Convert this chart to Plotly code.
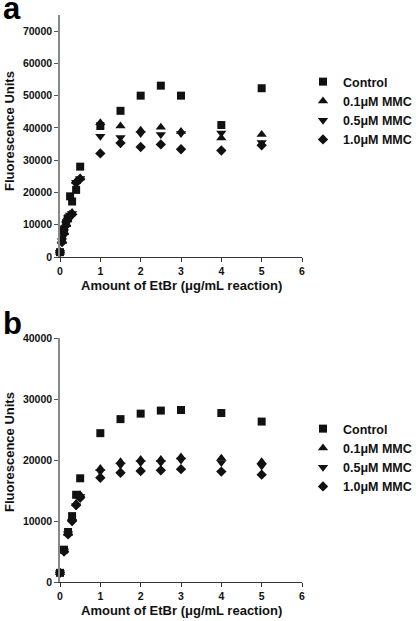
import plotly.graph_objects as go

# ---- data ----
series_names = ["Control", "0.1μM MMC", "0.5μM MMC", "1.0μM MMC"]
series_symbols = ["square", "triangle-up", "triangle-down", "diamond"]

x_a = [0, 0.05, 0.1, 0.15, 0.2, 0.25, 0.3, 0.4, 0.5, 1, 1.5, 2, 2.5, 3, 4, 5]
control_a = [1500, 5500, 8500, 10500, 12000, 18800, 17200, 20800, 28000, 40600, 45300, 50000, 53100, 50000, 40900, 52300]
mmc01_a = [1500, 4800, 7500, 10000, 12500, 13300, 13800, 23500, 24500, 41600, 40600, 39300, 40200, 38900, 36900, 38000]
mmc05_a = [1500, 5000, 7800, 10300, 12200, 13000, 13500, 23200, 24300, 37400, 37000, 38300, 38000, 38300, 38400, 35500]
mmc10_a = [1500, 4600, 7200, 9800, 12000, 12800, 13200, 23000, 24200, 32100, 35300, 34100, 34900, 33400, 33000, 34600]

x_b = [0, 0.1, 0.2, 0.3, 0.4, 0.5, 1, 1.5, 2, 2.5, 3, 4, 5]
control_b = [1500, 5300, 8200, 10800, 14300, 17000, 24400, 26700, 27600, 28100, 28200, 27700, 26300]
mmc01_b = [1500, 5200, 8000, 10400, 12900, 14300, 18600, 19700, 20100, 20100, 20500, 20300, 19700]
mmc05_b = [1500, 5100, 7900, 9900, 12500, 14000, 18100, 19200, 19600, 19600, 20000, 19600, 19000]
mmc10_b = [1500, 5000, 7800, 10000, 12600, 13800, 17100, 17900, 18200, 18300, 18500, 18100, 17600]

x_ticks = [0, 1, 2, 3, 4, 5, 6]
y_ticks_a = [0, 10000, 20000, 30000, 40000, 50000, 60000, 70000]
y_ticks_b = [0, 10000, 20000, 30000, 40000]

FONT = "Liberation Sans, Arial, sans-serif"
W, H = 416, 621
INK = "#111111"

fig = go.Figure()
sizes = [8, 9, 9, 8]
panel_a = [control_a, mmc01_a, mmc05_a, mmc10_a]
panel_b = [control_b, mmc01_b, mmc05_b, mmc10_b]
order = [3, 2, 1, 0]
for i in order:
    fig.add_trace(go.Scatter(x=x_a, y=panel_a[i], mode="markers", name=series_names[i],
                             marker=dict(symbol=series_symbols[i], size=sizes[i], color=INK),
                             xaxis="x", yaxis="y", legend="legend", legendrank=i, cliponaxis=False))
for i in order:
    fig.add_trace(go.Scatter(x=x_b, y=panel_b[i], mode="markers", name=series_names[i],
                             marker=dict(symbol=series_symbols[i], size=sizes[i], color=INK),
                             xaxis="x2", yaxis="y2", legend="legend2", legendrank=i, cliponaxis=False))

xdom = [60 / W, 302 / W]
ya_dom = [(H - 257) / H, (H - 15) / H]
yb_dom = [(H - 582) / H, (H - 338) / H]

tickfont = dict(family=FONT, size=10.5, color=INK, weight="bold")
common_x = dict(range=[0, 6], tickvals=x_ticks, ticktext=[str(v) for v in x_ticks],
                ticks="outside", ticklen=4, tickwidth=1,
                tickcolor="#333", showline=True, linecolor="#333", linewidth=1,
                showgrid=False, zeroline=False, tickfont=tickfont, domain=xdom,
                automargin=False)
common_y = dict(ticks="outside", ticklen=4, tickwidth=1, tickcolor="#555",
                showline=True, linecolor="#888", linewidth=1.5,
                showgrid=False, zeroline=False, tickfont=tickfont, automargin=False)

legend_common = dict(xanchor="left", yanchor="top", bgcolor="rgba(0,0,0,0)",
                     font=dict(family=FONT, size=12.5, color=INK, weight="bold"),
                     itemwidth=30, tracegroupgap=0, traceorder="normal")

fig.update_layout(
    width=W, height=H, margin=dict(l=0, r=0, t=0, b=0, autoexpand=False),
    paper_bgcolor="white", plot_bgcolor="white",
    xaxis=dict(common_x, anchor="y"),
    yaxis=dict(common_y, range=[0, 75000], tickvals=y_ticks_a,
               ticktext=[str(v) for v in y_ticks_a], domain=ya_dom, anchor="x"),
    xaxis2=dict(common_x, anchor="y2"),
    yaxis2=dict(common_y, range=[0, 40000], tickvals=y_ticks_b,
                ticktext=[str(v) for v in y_ticks_b], domain=yb_dom, anchor="x2"),
    legend=dict(legend_common, x=303 / W, y=1 - 67 / H),
    legend2=dict(legend_common, x=303 / W, y=1 - 414 / H),
    showlegend=True,
)

title_font = dict(family=FONT, size=13, color=INK, weight="bold")
annos = [
    dict(text="a", x=1 / W, y=1 - 9 / H, xanchor="left", yanchor="middle",
         font=dict(family=FONT, size=31, color="black", weight="bold")),
    dict(text="b", x=1 / W, y=1 - 323 / H, xanchor="left", yanchor="middle",
         font=dict(family=FONT, size=31, color="black", weight="bold")),
    dict(text="Fluorescence Units", x=9 / W, y=1 - 131 / H, textangle=-90,
         xanchor="center", yanchor="middle", font=title_font),
    dict(text="Fluorescence Units", x=9 / W, y=1 - 452 / H, textangle=-90,
         xanchor="center", yanchor="middle", font=title_font),
    dict(text="Amount of EtBr (μg/mL reaction)", x=181 / W, y=1 - 285 / H,
         xanchor="center", yanchor="middle", font=title_font),
    dict(text="Amount of EtBr (μg/mL reaction)", x=181 / W, y=1 - 610 / H,
         xanchor="center", yanchor="middle", font=title_font),
]
for a in annos:
    a.update(xref="paper", yref="paper", showarrow=False)
fig.update_layout(annotations=annos)

fig.write_html("out.html", config={"displayModeBar": False},
               post_script="document.body.style.margin='0';")
